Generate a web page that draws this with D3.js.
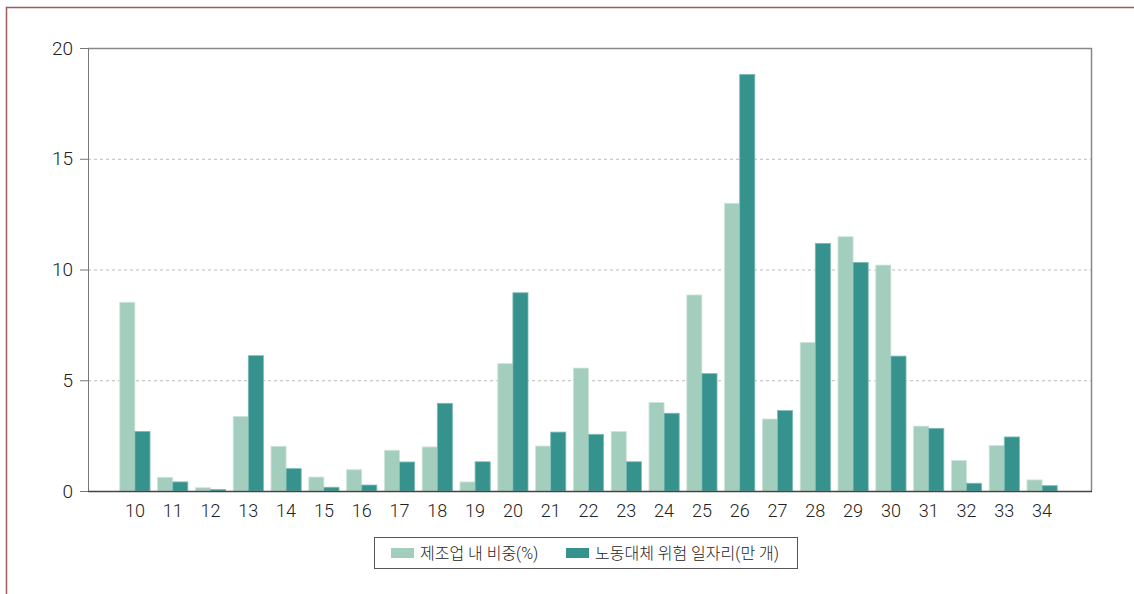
<!DOCTYPE html>
<html lang="ko">
<head>
<meta charset="utf-8">
<title>제조업 내 비중과 노동대체 위험 일자리</title>
<script src="https://d3js.org/d3.v7.min.js"></script>
<style>
  body { margin: 0; background: #fff; }
  text { font-family: Roboto, "Noto Sans CJK KR", sans-serif; font-weight: 300; fill: #222; }
</style>
</head>
<body>
<script>
// industry codes
var codes = ["10","11","12","13","14","15","16","17","18","19","20","21","22",
             "23","24","25","26","27","28","29","30","31","32","33","34"];
// 제조업 내 비중(%)
var share = [8.52,0.62,0.15,3.37,2.02,0.63,0.96,1.84,1.99,0.41,5.75,2.03,5.55,
             2.69,4.0,8.85,12.99,3.25,6.71,11.48,10.2,2.93,1.38,2.05,0.5];
// 노동대체 위험 일자리(만 개)
var jobs = [2.69,0.41,0.07,6.11,1.01,0.17,0.27,1.31,3.96,1.32,8.95,2.66,2.56,
            1.32,3.51,5.3,18.81,3.63,11.18,10.32,6.09,2.83,0.35,2.44,0.24];
var yTicks = [0, 5, 10, 15, 20];
var seriesNames = ["제조업 내 비중(%)", "노동대체 위험 일자리(만 개)"];
var colors = ["#a3cdbc", "#36928d"];

var width = 1134, height = 594;
var plotL = 88, plotR = 1091, plotT = 48, plotB = 491;

var svg = d3.select("body").append("svg")
    .attr("width", width)
    .attr("height", height);

// outer frame
svg.append("rect")
    .attr("x", 6.5).attr("y", 7.5)
    .attr("width", 1140).attr("height", 600)
    .attr("fill", "none")
    .attr("stroke", "#a05a5a")
    .attr("stroke-width", 1.5);

var x = d3.scaleBand()
    .domain(codes)
    .range([116, 1061])
    .paddingInner(0.2)
    .paddingOuter(0.1);

var xs = d3.scaleBand()
    .domain([0, 1])
    .range([0, x.bandwidth()]);

var y = d3.scaleLinear()
    .domain([0, 20])
    .range([plotB, plotT]);

// dashed grid
svg.append("g")
  .selectAll("line")
  .data(yTicks.filter(function(d) { return d > 0 && d < 20; }))
  .enter().append("line")
    .attr("x1", plotL).attr("x2", plotR)
    .attr("y1", function(d) { return y(d) + 0.5; })
    .attr("y2", function(d) { return y(d) + 0.5; })
    .attr("stroke", "#bbb")
    .attr("stroke-dasharray", "3,3");

// top and right frame
svg.append("path")
    .attr("d", "M" + plotL + "," + (plotT + 0.5) + "H" + (plotR + 0.5) + "V" + plotB)
    .attr("fill", "none")
    .attr("stroke", "#888")
    .attr("stroke-width", 1.5);

// bars
var groups = svg.append("g")
  .selectAll("g")
  .data(codes)
  .enter().append("g")
    .attr("transform", function(d) { return "translate(" + x(d) + ",0)"; });

groups.selectAll("rect")
  .data(function(d, i) { return [share[i], jobs[i]]; })
  .enter().append("rect")
    .attr("x", function(d, j) { return xs(j); })
    .attr("y", function(d) { return y(d); })
    .attr("width", xs.bandwidth())
    .attr("height", function(d) { return plotB - y(d); })
    .attr("fill", function(d, j) { return colors[j]; })
    .attr("stroke", function(d, j) { return j ? "#7fbcb6" : "#cfe6dc"; })
    .attr("stroke-width", 0.8);

// y axis
var yAxis = svg.append("g")
    .attr("transform", "translate(" + plotL + ",0)")
    .call(d3.axisLeft(y).tickValues(yTicks).tickSize(8).tickPadding(7));
yAxis.select(".domain").attr("stroke", "#777");
yAxis.selectAll(".tick line").attr("stroke", "#777");
yAxis.selectAll("text").attr("font-size", 19).attr("fill", "#222");

// x axis
var xAxis = svg.append("g")
    .attr("transform", "translate(0," + plotB + ")")
    .call(d3.axisBottom(x).tickSize(0).tickPadding(13));
xAxis.select(".domain").remove();
xAxis.selectAll("text").attr("font-size", 18).attr("fill", "#222");
svg.append("line")
    .attr("x1", plotL).attr("x2", plotR + 1)
    .attr("y1", plotB + 0.5).attr("y2", plotB + 0.5)
    .attr("stroke", "#444").attr("stroke-width", 1.3);

// legend
var lg = svg.append("g");
lg.append("rect")
    .attr("x", 374.5).attr("y", 537.5)
    .attr("width", 423).attr("height", 31)
    .attr("fill", "#fff").attr("stroke", "#555");
var lx = [391, 566];
seriesNames.forEach(function(name, i) {
  lg.append("rect")
      .attr("x", lx[i]).attr("y", 548)
      .attr("width", 23).attr("height", 10)
      .attr("fill", colors[i]);
  lg.append("text")
      .attr("x", lx[i] + 29).attr("y", 559)
      .attr("font-size", 16)
      .text(name);
});
</script>
</body>
</html>
